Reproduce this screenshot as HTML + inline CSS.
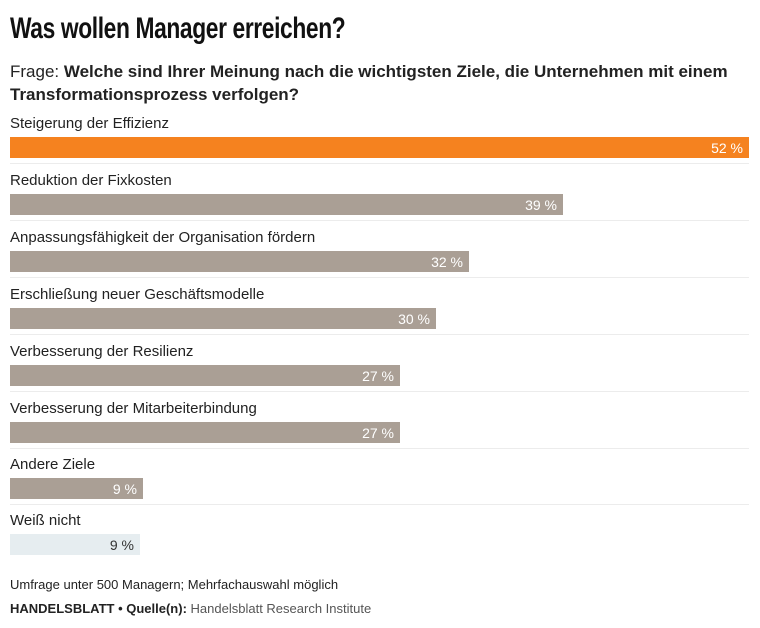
<!DOCTYPE html>
<html><head><meta charset="utf-8"><style>
body{margin:0;width:760px;height:628px;background:#fff;font-family:"Liberation Sans",Arial,sans-serif;color:#222;position:relative;overflow:hidden}
.a{position:absolute;white-space:nowrap}
.t{left:10px;top:12px;font-size:30px;font-weight:bold;letter-spacing:-0.5px;transform:scaleX(0.76);transform-origin:left top;color:#111}
.q{left:10px;font-size:17px}
.l{left:10px;font-size:15px;color:#222}
.b{left:10px;height:21px;background:#aa9f95;color:#fff;font-size:14px;text-align:right;box-sizing:border-box;padding-right:6px;line-height:22px}
.s{left:10px;width:739px;height:1px;background:#ececec}
</style></head><body>
<div class="a t">Was wollen Manager erreichen?</div>
<div class="a q" style="top:62px">Frage: <b>Welche sind Ihrer Meinung nach die wichtigsten Ziele, die Unternehmen mit einem</b></div>
<div class="a q" style="top:85px"><b>Transformationsprozess verfolgen?</b></div>

<div class="a l" style="top:115px">Steigerung der Effizienz</div>
<div class="a b" style="top:137px;width:739px;background:#f5821f">52 %</div>
<div class="a s" style="top:163px"></div>

<div class="a l" style="top:172px">Reduktion der Fixkosten</div>
<div class="a b" style="top:194px;width:553px">39 %</div>
<div class="a s" style="top:220px"></div>

<div class="a l" style="top:229px">Anpassungsfähigkeit der Organisation fördern</div>
<div class="a b" style="top:251px;width:459px">32 %</div>
<div class="a s" style="top:277px"></div>

<div class="a l" style="top:286px">Erschließung neuer Geschäftsmodelle</div>
<div class="a b" style="top:308px;width:426px">30 %</div>
<div class="a s" style="top:334px"></div>

<div class="a l" style="top:343px">Verbesserung der Resilienz</div>
<div class="a b" style="top:365px;width:390px">27 %</div>
<div class="a s" style="top:391px"></div>

<div class="a l" style="top:400px">Verbesserung der Mitarbeiterbindung</div>
<div class="a b" style="top:422px;width:390px">27 %</div>
<div class="a s" style="top:448px"></div>

<div class="a l" style="top:456px">Andere Ziele</div>
<div class="a b" style="top:478px;width:133px">9 %</div>
<div class="a s" style="top:504px"></div>

<div class="a l" style="top:512px">Weiß nicht</div>
<div class="a b" style="top:534px;width:130px;background:#e6edf0;color:#333">9 %</div>

<div class="a" style="left:10px;top:577px;font-size:13px">Umfrage unter 500 Managern; Mehrfachauswahl möglich</div>
<div class="a" style="left:10px;top:601px;font-size:13px;color:#555"><b style="color:#222">HANDELSBLATT • Quelle(n):</b> Handelsblatt Research Institute</div>
</body></html>
